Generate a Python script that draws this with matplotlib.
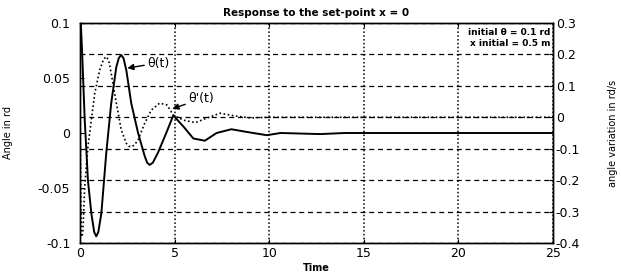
import matplotlib
matplotlib.use("Agg")
import matplotlib.pyplot as plt

plt.rcParams['font.family'] = ['DejaVu Sans']
plt.rcParams['axes.unicode_minus'] = False

# theta(t) in rd (left axis)
t_theta = [0, 0.05, 0.12, 0.25, 0.42, 0.6, 0.75, 0.86, 0.97, 1.13, 1.39, 1.65,
           1.92, 2.05, 2.18, 2.3, 2.45, 2.71, 3.07, 3.42, 3.55, 3.68, 3.85, 4.12,
           4.56, 4.93, 5.46, 5.99, 6.6, 7.22, 8.0, 8.8, 9.87, 10.6, 12.7, 14.0, 25.0]
theta = [0.1, 0.098, 0.07, 0.012, -0.043, -0.073, -0.09, -0.094, -0.09, -0.073,
         -0.018, 0.027, 0.06, 0.068, 0.071, 0.068, 0.057, 0.027, 0.0, -0.021,
         -0.027, -0.029, -0.027, -0.018, 0.0, 0.016, 0.006, -0.005, -0.007, 0.0,
         0.0034, 0.001, -0.002, 0.0, -0.001, 0.0, 0.0]

# theta'(t) in rd/s (right axis)
t_dtheta = [0, 0.07, 0.15, 0.25, 0.42, 0.6, 0.78, 1.04, 1.25, 1.39, 1.52, 1.65,
            1.92, 2.18, 2.45, 2.58, 2.71, 2.88, 3.07, 3.42, 3.77, 4.21, 4.6, 4.93,
            5.46, 6.1, 6.6, 7.4, 8.2, 9.0, 10.0, 25.0]
dtheta = [0.0, -0.38, -0.37, -0.22, -0.094, -0.009, 0.076, 0.15, 0.185, 0.193,
          0.18, 0.14, 0.045, -0.04, -0.083, -0.092, -0.094, -0.088, -0.072, -0.019,
          0.023, 0.045, 0.039, 0.007, -0.009, -0.017, -0.005, 0.013, 0.004, -0.002,
          0.0, 0.0]

xticks = [0, 5, 10, 15, 20, 25]
left_ticks = [-0.1, -0.05, 0, 0.05, 0.1]
left_labels = ['-0.1', '-0.05', '0', '0.05', '0.1']
right_ticks = [-0.4, -0.3, -0.2, -0.1, 0, 0.1, 0.2, 0.3]
right_labels = ['-0.4', '-0.3', '-0.2', '-0.1', '0', '0.1', '0.2', '0.3']

fig = plt.figure(figsize=(6.21, 2.76), dpi=100)
ax = fig.add_axes([0.1288, 0.1196, 0.7617, 0.7971])
ax2 = ax.twinx()

ax.set_xlim(0, 25)
ax.set_ylim(-0.1, 0.1)
ax2.set_ylim(-0.4, 0.3)

ax.set_xticks(xticks)
ax.set_xticklabels([str(v) for v in xticks])
ax.set_yticks(left_ticks)
ax.set_yticklabels(left_labels)
ax2.set_yticks(right_ticks)
ax2.set_yticklabels(right_labels)

ax.tick_params(axis='y', direction='in', labelsize=9, length=3, width=0.8, pad=7)
ax.tick_params(axis='x', direction='in', labelsize=9, length=3, width=0.8, pad=3, top=True)
ax2.tick_params(axis='y', direction='in', labelsize=9, length=3, width=0.8, pad=2)

ax.xaxis.grid(True, linestyle=(0, (1, 1.5)), color='k', linewidth=1.1)
ax2.yaxis.grid(True, linestyle=(0, (4, 3)), color='k', linewidth=0.9)

ax.plot(t_theta, theta, color='k', linewidth=1.4, zorder=5)
ax2.plot(t_dtheta, dtheta, color='k', linewidth=1.2, linestyle=(0, (1, 1.5)), zorder=5)

for a in (ax, ax2):
    for s in a.spines.values():
        s.set_linewidth(1.0)

ax.set_title('Response to the set-point x = 0', fontsize=7.5, fontweight='bold', pad=5)
ax.set_xlabel('Time', fontsize=7, fontweight='bold', labelpad=2)
ax.set_ylabel('Angle in rd', fontsize=7)
ax2.set_ylabel('angle variation in rd/s', fontsize=7)
ax.yaxis.set_label_coords(-0.142, 0.5)
ax2.yaxis.set_label_coords(1.116, 0.5)

arrow = dict(arrowstyle='-|>', color='k', lw=1.0, mutation_scale=9, shrinkA=0, shrinkB=0)
ax.annotate('θ(t)', xy=(2.5, 0.059), xytext=(3.54, 0.0636), fontsize=9,
            va='center', ha='left', arrowprops=arrow, zorder=6)
ax.annotate("θ'(t)", xy=(4.88, 0.022), xytext=(5.71, 0.031), fontsize=9,
            va='center', ha='left', arrowprops=arrow, zorder=6)

ax.text(0.995, 0.955, 'initial θ = 0.1 rd', transform=ax.transAxes, fontsize=6.5,
        ha='right', va='center', fontweight='bold')
ax.text(0.995, 0.905, 'x initial = 0.5 m', transform=ax.transAxes, fontsize=6.5,
        ha='right', va='center', fontweight='bold')

fig.savefig('out.png', dpi=100)
